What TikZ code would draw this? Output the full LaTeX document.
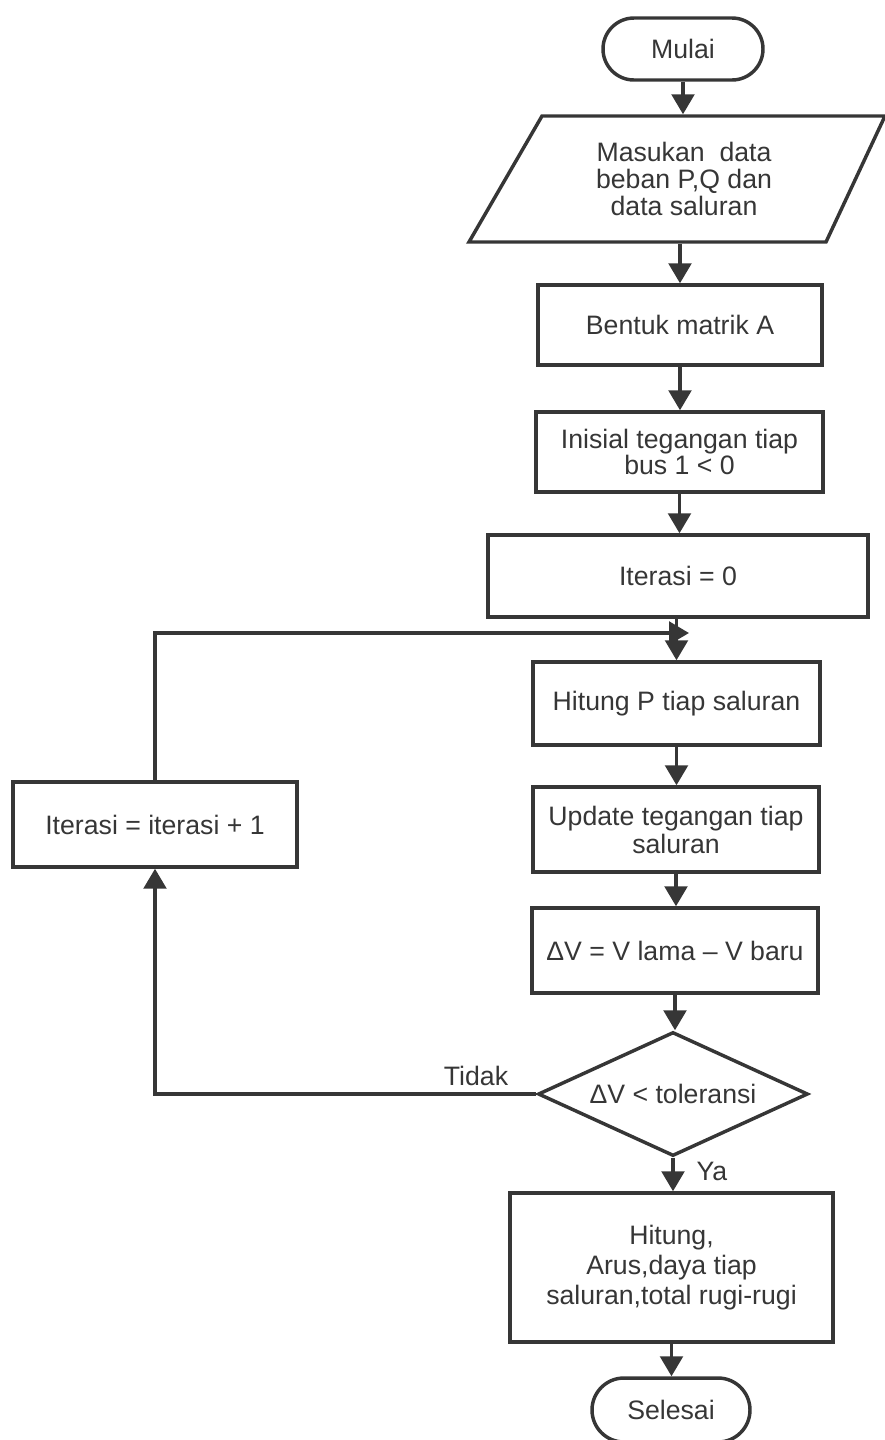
\documentclass[tikz,border=0pt]{standalone}
\usepackage{fontspec}
\setmainfont{Liberation Sans}
\usetikzlibrary{arrows.meta,shapes.geometric,shapes.misc}
\definecolor{ink}{HTML}{363636}
\begin{document}
\begin{tikzpicture}[x=0.75pt,y=-0.75pt,
  every node/.style={font=\fontsize{20}{20}\selectfont, text=ink},
  line/.style={draw=ink, line width=2.6pt},
  box/.style={line, rectangle, align=center, inner sep=0pt},
  term/.style={line, rounded rectangle, inner sep=0pt},
  arr/.style={draw=ink, line width=2.6pt, -{Triangle[length=15pt,width=17pt]}},
]
\useasboundingbox (0,0) rectangle (885,1440);

% start
\node[term, minimum width=120pt, minimum height=46.5pt] (mulai) at (683,49) {Mulai};

% input parallelogram
\coordinate (pTL) at (542,116);
\coordinate (pTR) at (885,116);
\coordinate (pBR) at (826,242);
\coordinate (pBL) at (469,242);
\draw[line] (pTL) -- (pTR) -- (pBR) -- (pBL) -- cycle;
\node[align=center, minimum height=94.5pt, inner sep=0pt, outer sep=1.3pt] (input) at (684,179)
  {Masukan\ \ data\\beban P,Q dan\\data saluran};

% process steps
\node[box, minimum width=213pt, minimum height=60pt] (bentuk) at (680,325) {Bentuk matrik A};
\node[box, minimum width=215.25pt, minimum height=60pt, font=\fontsize{20}{19}\selectfont] (inisial) at (679.5,452) {Inisial tegangan tiap\\bus 1 < 0};
\node[box, minimum width=285pt, minimum height=61.5pt] (iter0) at (678,576) {Iterasi = 0};
\node[box, minimum width=215.25pt, minimum height=62.25pt] (hitungP) at (676.5,703.5) {Hitung P tiap saluran};
\node[box, minimum width=214.5pt, minimum height=63.75pt, font=\fontsize{20}{21}\selectfont] (update) at (676,829.5) {Update tegangan tiap\\saluran};
\node[box, minimum width=214.5pt, minimum height=63.75pt] (dv) at (675,950.5) {ΔV = V lama – V baru};
\node[line, diamond, aspect=2.2, minimum width=202.5pt, minimum height=93pt, inner sep=0pt] (cek) at (673,1094) {ΔV < toleransi};
\node[box, minimum width=242.25pt, minimum height=111.75pt, font=\fontsize{20}{22.5}\selectfont] (hasil) at (671.5,1267.5)
  {Hitung,\\Arus,daya tiap\\saluran,total rugi-rugi};
\node[term, minimum width=118.5pt, minimum height=48pt] (selesai) at (671,1410) {Selesai};
\node[box, minimum width=213pt, minimum height=63.75pt] (iter1) at (155,824.5) {Iterasi = iterasi + 1};

% branch labels
\node (tidak) at (476,1076) {Tidak};
\node (ya) at (712,1171) {Ya};

% main flow
\draw[arr] (mulai.south) -- (mulai.south |- input.north);
\draw[arr] (input.south -| bentuk.north) -- (bentuk.north);
\draw[arr] (bentuk.south) -- (bentuk.south |- inisial.north);
\draw[arr] (inisial.south) -- (inisial.south |- iter0.north);
\draw[arr] (iter0.south -| hitungP.north) -- (hitungP.north);
\draw[arr] (hitungP.south) -- (hitungP.south |- update.north);
\draw[arr] (update.south) -- (update.south |- dv.north);
\draw[arr] (dv.south) -- (dv.south |- cek.north);
\draw[arr] (cek.south) -- (cek.south |- hasil.north);
\draw[arr] (hasil.south) -- (hasil.south |- selesai.north);

% iteration loop
\coordinate (loopend) at (689,633);
\draw[arr] (cek.west) -| (iter1.south);
\draw[arr] (iter1.north) |- (loopend);
\end{tikzpicture}
\end{document}
